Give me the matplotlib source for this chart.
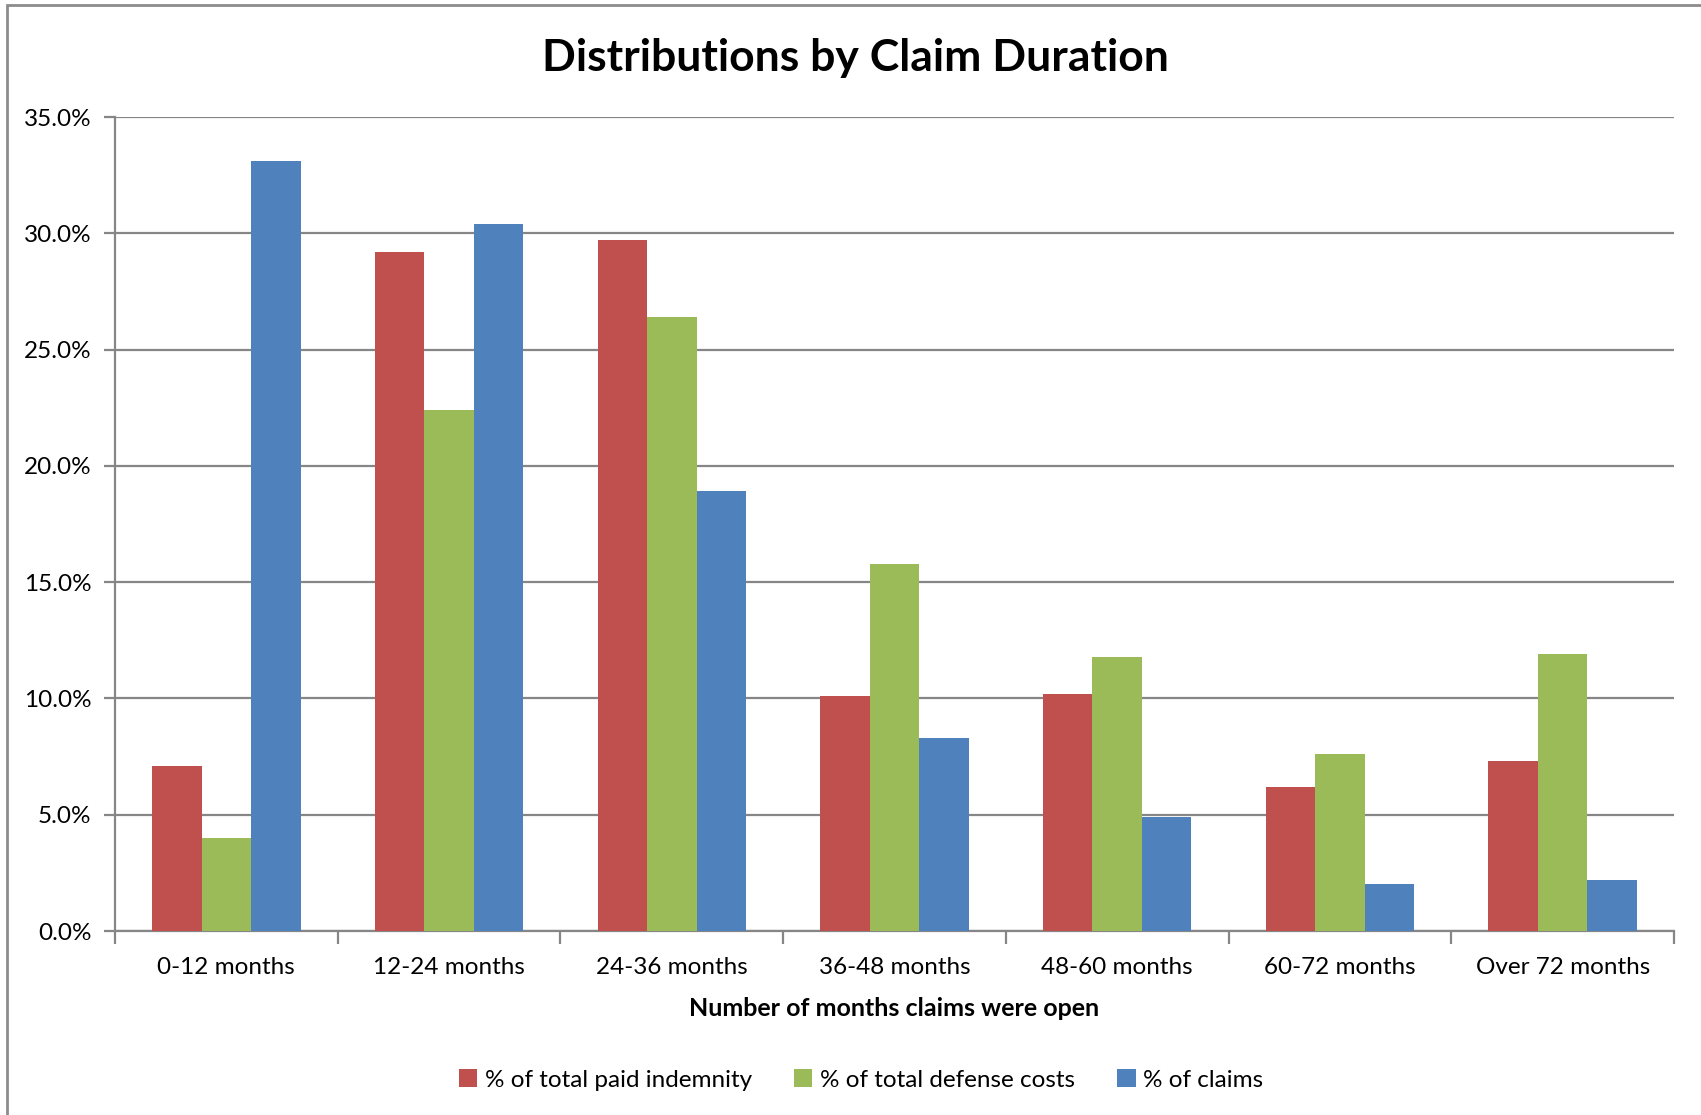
import matplotlib
matplotlib.use("Agg")
import matplotlib.pyplot as plt
import numpy as np
from matplotlib.patches import Rectangle, Patch

categories = ["0-12 months", "12-24 months", "24-36 months", "36-48 months",
              "48-60 months", "60-72 months", "Over 72 months"]
series_names = ["% of total paid indemnity", "% of total defense costs", "% of claims"]
paid_indemnity = [7.1, 29.2, 29.7, 10.1, 10.2, 6.2, 7.3]
defense_costs = [4.0, 22.4, 26.4, 15.8, 11.8, 7.6, 11.9]
claims = [33.1, 30.4, 18.9, 8.3, 4.9, 2.0, 2.2]
yticks = [0, 5, 10, 15, 20, 25, 30, 35]
colors = ["#C0504D", "#9BBB59", "#4F81BD"]

plt.rcParams['font.family'] = ['Lato', 'DejaVu Sans']

W, H = 1701, 1115
fig = plt.figure(figsize=(W / 100, H / 100), dpi=100)
ax = fig.add_axes([115 / W, 1 - 931 / H, (1674 - 115) / W, (931 - 117) / H])

x = np.arange(len(categories))
bw = 1 / 4.5
for i, (vals, c) in enumerate(zip([paid_indemnity, defense_costs, claims], colors)):
    ax.bar(x + (i - 1) * bw, vals, width=bw, color=c, edgecolor="none", zorder=3)

fs = 17.5
ax.set_xlim(-0.5, len(categories) - 0.5)
ax.set_ylim(0, 35)
ax.set_yticks(yticks)
ax.set_yticklabels([f"{v:.1f}%" for v in yticks], fontsize=fs)
ax.yaxis.grid(True, color="#868686", linewidth=1.6, zorder=0)
ax.tick_params(axis="y", length=8, width=1.6, color="#868686", pad=9)

ax.set_xticks(x)
ax.set_xticklabels(categories, fontsize=fs)
ax.set_xticks(np.arange(-0.5, len(categories)), minor=True)
ax.tick_params(axis="x", which="major", length=0, pad=18.5)
ax.tick_params(axis="x", which="minor", length=9, width=1.6, color="#868686")
ax.set_xlabel("Number of months claims were open", fontsize=18, fontweight="bold", labelpad=14)

for s in ["top", "right"]:
    ax.spines[s].set_visible(False)
for s in ["left", "bottom"]:
    ax.spines[s].set_color("#868686")
    ax.spines[s].set_linewidth(1.6)

fig.text(855 / W, 1 - 58 / H, "Distributions by Claim Duration", fontsize=32,
         fontweight="bold", ha="center", va="center")

handles = [Patch(facecolor=c, edgecolor="none") for c in colors]
fig.legend(handles, series_names, loc="center", bbox_to_anchor=(861 / W, 1 - 1080 / H),
           ncol=3, frameon=False, fontsize=fs, handlelength=0.75, handleheight=0.75,
           handletextpad=0.3, columnspacing=1.75)

fig.patches.append(Rectangle((7 / W, -0.1), 1.2, 1 - 5 / H + 0.1, transform=fig.transFigure,
                             fill=False, edgecolor="#8c8c8c", linewidth=2))

fig.savefig("out.png", dpi=100)
